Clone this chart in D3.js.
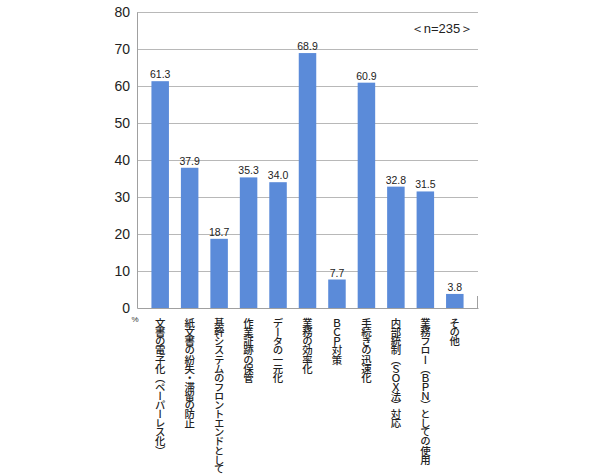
<!DOCTYPE html>
<html><head><meta charset="utf-8">
<script src="https://cdn.jsdelivr.net/npm/d3@7"></script>
<style>
body{margin:0;background:#fff;}
svg{display:block;}
.cat{font-family:"Noto Sans CJK JP",sans-serif;font-size:10.4px;letter-spacing:-1.3px;font-weight:500;fill:#222;writing-mode:vertical-rl;}
</style>
</head><body>
<svg id="chart" width="590" height="475"></svg>
<script>
const categories = ["文書の電子化（ペーパーレス化）","紙文書の紛失・滞留の防止","基幹システムのフロントエンドとして","作業証跡の保管","データの一元化","業務の効率化","ＢＣＰ対策","手続きの迅速化","内部統制（ＳＯＸ法）対応","業務フロー（ＢＰＮ）としての使用","その他"];
const values = [61.3,37.9,18.7,35.3,34.0,68.9,7.7,60.9,32.8,31.5,3.8];
const yTicks = [0,10,20,30,40,50,60,70,80];
const note = "＜n=235＞";

const svg = d3.select("#chart");
const mLeft = 137, mRight = 478, mTop = 12, mBottom = 308;
const x = d3.scaleBand().domain(categories).range([mLeft,mRight]).paddingInner(0.406).paddingOuter(0.49);
const y = d3.scaleLinear().domain([0,80]).range([mBottom,mTop]);

// grid
svg.append("g").selectAll("line").data(yTicks.slice(1)).join("line")
  .attr("x1",mLeft).attr("x2",mRight).attr("y1",d=>y(d)+0.5).attr("y2",d=>y(d)+0.5)
  .attr("stroke","#b8b8b8").attr("stroke-width",1);

// y axis
const yAxis = d3.axisLeft(y).tickValues(yTicks).tickSize(0).tickPadding(7);
const gy = svg.append("g").attr("transform",`translate(${mLeft},0)`).call(yAxis);
gy.select(".domain").attr("stroke","#a0a0a0");
gy.selectAll("text").attr("font-family","Liberation Sans, Arial, sans-serif").attr("font-size","14px").attr("fill","#222");
svg.append("text").attr("x",135).attr("y",mBottom+14).attr("text-anchor","middle")
  .attr("font-family","Liberation Sans, Arial, sans-serif").attr("font-size","8px").attr("fill","#333").text("%");

// bars
svg.append("g").selectAll("rect").data(values).join("rect")
  .attr("x",(d,i)=>x(categories[i])).attr("width",x.bandwidth())
  .attr("y",d=>y(d)).attr("height",d=>y(0)-y(d)).attr("fill","#5b8bd9");

// value labels
svg.append("g").selectAll("text").data(values).join("text")
  .attr("x",(d,i)=>x(categories[i])+x.bandwidth()/2).attr("y",d=>y(d)-3)
  .attr("text-anchor","middle").attr("font-family","Liberation Sans, Arial, sans-serif")
  .attr("font-size","10.5px").attr("fill","#222").text(d=>d.toFixed(1));

// x axis baseline
const xAxis = d3.axisBottom(x).tickSize(0).tickFormat("");
const gx = svg.append("g").attr("transform",`translate(0,${mBottom})`).call(xAxis);
gx.select(".domain").attr("stroke","#a0a0a0");
svg.append("line").attr("x1",mRight-0.5).attr("x2",mRight-0.5).attr("y1",mBottom-12).attr("y2",mBottom)
  .attr("stroke","#a0a0a0");

// category labels (vertical)
svg.append("g").selectAll("text").data(categories).join("text")
  .attr("class","cat")
  .attr("x",d=>x(d)+x.bandwidth()/2).attr("y",mBottom+10)
  .text(d=>d);

// note
svg.append("text").attr("x",442).attr("y",33).attr("text-anchor","middle")
  .attr("font-family","Liberation Sans, Arial, sans-serif").attr("font-size","13px").attr("fill","#222").text(note);
</script>
</body></html>
